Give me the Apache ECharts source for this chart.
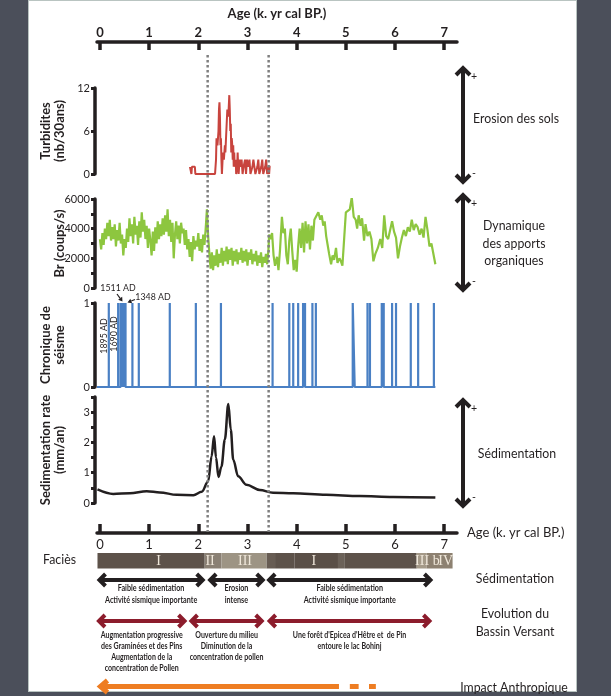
<!DOCTYPE html>
<html>
<head>
<meta charset="utf-8">
<script src="https://cdn.jsdelivr.net/npm/echarts@6/dist/echarts.min.js"></script>
<style>
  html, body { margin: 0; padding: 0; background: #4b4f5a; }
  #panel { position: absolute; left: 28px; top: 0; width: 547px; height: 690px; background: #fff; border: 1px solid #b9c4c1; }
  #chart { position: absolute; left: 0; top: 0; width: 611px; height: 696px; }
</style>
</head>
<body>
<div id="panel"></div>
<div id="chart"></div>
<script>
// ---- data (ages in k. yr cal BP) ----
const ageTicks = [0, 1, 2, 3, 4, 5, 6, 7]

// Turbidites (nb/30ans)
const turbData = [
  [1.83, 1], [1.85, 1], [1.86, 0], [1.87, 1], [1.93, 1], [1.94, 0], [2.34, 0], [2.36, 2], [2.37, 5],
  [2.39, 4], [2.41, 6], [2.42, 9], [2.43, 10], [2.44, 8], [2.45, 4], [2.46, 5], [2.47, 2], [2.48, 0],
  [2.5, 3], [2.52, 2], [2.54, 4], [2.55, 3], [2.57, 6], [2.59, 9], [2.61, 8], [2.63, 11], [2.64, 9],
  [2.65, 6], [2.66, 7], [2.67, 3], [2.68, 5], [2.69, 4], [2.7, 2], [2.71, 4], [2.72, 1], [2.73, 3],
  [2.74, 1], [2.76, 2], [2.77, 0], [2.79, 1], [2.8, 3], [2.81, 1], [2.82, 0], [2.84, 2], [2.86, 1],
  [2.88, 2], [2.9, 0], [2.92, 1], [2.95, 2], [2.97, 0], [2.99, 2], [3.02, 1], [3.04, 2], [3.06, 0],
  [3.1, 1], [3.12, 2], [3.14, 1], [3.16, 0], [3.2, 1], [3.22, 2], [3.24, 0], [3.28, 1], [3.3, 2],
  [3.32, 0], [3.36, 1], [3.38, 2], [3.4, 0], [3.42, 1], [3.44, 0], [3.45, 1], [3.47, 1]
]

// Br (coups/s): two regularly sampled stretches, then irregular points
const BR_STEP = 0.025
const brStart1 = 0
const brDense1 = [
  3300, 2600, 3700, 2900, 4000, 3300, 4400, 3500, 4600, 3200, 4100, 3300, 4300, 2800, 3900, 3200,
  4400, 3000, 3600, 2200, 3300, 2700, 4000, 3100, 4700, 3500, 4300, 3000, 4800, 3600, 4200, 2900,
  4500, 3400, 5100, 3800, 4600, 3300, 4200, 2700, 4000, 3200, 2200, 3800, 2500, 4100, 3000, 4500,
  3300, 4300, 3500, 4700, 3600, 4900, 3800, 5300, 3500, 4600, 3100, 4400, 2000, 3600, 4500, 3300,
  4200, 3000, 4400, 3700, 4000, 2900, 3900, 2600, 3300, 2100, 3100, 1800, 3500, 2600, 3200, 2800,
  3700, 2500, 3300, 2400, 3600, 2900, 4000, 5300, 3500
]
const brStart2 = 2.225
const brDense2 = [
  2300, 1300, 2400, 1200, 2200, 1500, 2600, 1400, 2300, 1700, 2700, 1500, 2500, 1800, 2800, 1600,
  2600, 1900, 2700, 1500, 2500, 1800, 2600, 1600, 2400, 1900, 2700, 1700, 2500, 1800, 2600, 1500,
  2400, 1900, 2600, 1600, 2300, 1800, 2500, 1500, 2200, 1700, 2400, 1400, 2100, 1700, 2300, 1600, 2500
]
const brTail = [
  [3.44, 3600], [3.47, 3300], [3.5, 3700], [3.53, 2200], [3.56, 1500], [3.6, 2100], [3.63, 1200],
  [3.66, 2500], [3.7, 4800], [3.73, 3700], [3.76, 4000], [3.79, 2200], [3.82, 1600], [3.85, 3200],
  [3.88, 4000], [3.91, 2500], [3.94, 1200], [3.97, 1900], [4.0, 1100], [4.03, 2800], [4.06, 4000],
  [4.09, 2700], [4.12, 4400], [4.15, 2400], [4.18, 4500], [4.21, 3000], [4.24, 4300], [4.27, 2600],
  [4.3, 4200], [4.33, 3200], [4.36, 4600], [4.4, 4700], [4.44, 5100], [4.48, 4600], [4.51, 4900],
  [4.54, 4200], [4.57, 4500], [4.6, 3500], [4.63, 2900], [4.66, 2300], [4.7, 1600], [4.73, 2200],
  [4.76, 1900], [4.8, 2700], [4.83, 1700], [4.87, 2000], [4.9, 1800], [4.93, 1500], [4.97, 1400],
  [5.0, 5100], [5.04, 5200], [5.08, 5300], [5.12, 6100], [5.16, 4800], [5.2, 4600], [5.23, 4000],
  [5.26, 4900], [5.3, 4200], [5.33, 4700], [5.37, 3200], [5.4, 4300], [5.44, 3500], [5.48, 3800],
  [5.52, 3300], [5.56, 1800], [5.6, 2300], [5.65, 2700], [5.7, 3300], [5.74, 2700], [5.78, 4900],
  [5.82, 3500], [5.86, 3300], [5.9, 3400], [5.94, 4500], [5.98, 3800], [6.02, 3400], [6.06, 2000],
  [6.1, 2800], [6.14, 3400], [6.18, 3900], [6.22, 3500], [6.26, 4100], [6.3, 3800], [6.34, 4600],
  [6.38, 3900], [6.42, 4300], [6.46, 4100], [6.5, 3600], [6.54, 4000], [6.58, 3400], [6.62, 4800],
  [6.66, 3900], [6.7, 2800], [6.74, 3000], [6.78, 2900], [6.82, 1600]
]

// Chronique de séisme: event ages (second value = where the line returns to 0)
const seismeEvents = [
  [0.18], [0.37], [0.42], [0.45], [0.47], [0.49], [0.52], [0.66], [0.79], [1.42], [1.95], [2.46],
  [3.51], [3.85], [3.93], [4.03], [4.13], [4.17], [4.32], [4.39], [5.14, 5.18], [5.44], [5.49],
  [5.73], [5.77], [5.94], [6.02], [6.32], [6.47], [6.79]
]
const seismeStart = -0.06
const seismeEnd = 6.82

// Sedimentation rate (mm/an)
const sedData = [
  [-0.05, 0.45], [0.27, 0.3], [0.61, 0.32], [0.95, 0.39], [1.22, 0.35], [1.56, 0.27], [1.9, 0.26],
  [2.07, 0.37], [2.2, 0.71], [2.27, 1.54], [2.32, 2.2], [2.36, 1.5], [2.41, 0.86], [2.47, 1.2],
  [2.54, 2.1], [2.61, 3.27], [2.66, 2.43], [2.71, 1.43], [2.81, 0.88], [2.98, 0.6], [3.25, 0.43],
  [3.52, 0.34], [3.93, 0.32], [4.6, 0.27], [5.28, 0.23], [5.96, 0.2], [6.82, 0.18]
]

const zoneBounds = [2.19, 3.43]

// Faciès bar
const faciesSegs = [
  [-0.05, 2.13], [2.13, 2.47], [2.47, 3.39], [3.39, 3.56], [3.56, 3.96], [3.96, 4.84],
  [4.84, 4.98], [4.98, 6.44], [6.44, 6.64], [6.64, 7.17]
]
const faciesColors = [
  '#5d524a', '#8a8074', '#9d9484', '#675c53', '#5d524a', '#5a4f47',
  '#6b6158', '#5d524a', '#a59a89', '#8d8171'
]
const faciesLabels = [[1.19, 'I'], [2.24, 'II'], [2.95, 'III'], [4.35, 'I'], [6.55, 'III'], [6.84, 'b'], [7.03, 'IV']]

// Interpretation bands
const sedArrows = [[-0.03, 2.11], [2.22, 3.33], [3.42, 6.74]]
const sedTexts = [
  'Faible sédimentation\nActivité sismique importante',
  'Erosion\nintense',
  'Faible sédimentation\nActivité sismique importante'
]
const evoArrows = [[-0.04, 1.74], [1.84, 3.31], [3.43, 6.72]]
const evoTexts = [
  'Augmentation progressive\ndes Graminées et des Pins\nAugmentation de la\nconcentration de Pollen',
  'Ouverture du milieu\nDiminution de la\nconcentration de pollen',
  "Une forêt d'Epicea d'Hêtre et  de Pin\nentoure le lac Bohinj"
]
const impactSegs = [[-0.03, 4.86], [5.04, 5.26], [5.43, 5.61]]

// ---- layout ----
const INK = '#231f20'
const FONT = 'Lato, "Open Sans", sans-serif'
const X_MIN = -0.06
const X_MAX = 7.26
const ROW = { facTop: 13, facBot: 28.5, facLabel: 21, sedArrow: 40, sedText: 42.5, evoArrow: 81, evoText: 89, impact: 146.5 }

const brData = brDense1.map((v, i) => [+(brStart1 + i * BR_STEP).toFixed(3), v])
  .concat(brDense2.map((v, i) => [+(brStart2 + i * BR_STEP).toFixed(3), v]))
  .concat(brTail)

const seismeData = [[seismeStart, 0]]
seismeEvents.forEach(e => {
  const a = e[0]
  const b = e.length > 1 ? e[1] : e[0]
  seismeData.push([a, 0], [a, 1], [b, 0])
})
seismeData.push([seismeEnd, 0])

const chart = echarts.init(document.getElementById('chart'))

const axisLineStyle = { color: INK, width: 3.5 }
const nameStyle = { fontFamily: FONT, fontSize: 13, fontWeight: 'bold', color: INK, lineHeight: 14 }

const yBase = (gi, extra) => Object.assign({
  gridIndex: gi,
  type: 'value',
  offset: 2,
  axisLine: { show: true, onZero: false, lineStyle: axisLineStyle },
  axisTick: { show: true, length: 4, lineStyle: { color: INK, width: 3 } },
  axisLabel: { margin: 5, fontFamily: FONT, fontSize: 11, color: INK },
  splitLine: { show: false },
  nameLocation: 'middle',
  nameRotate: 90,
  nameGap: 28,
  nameMoveOverlap: false,
  nameTextStyle: nameStyle
}, extra)

const hiddenX = gi => ({ gridIndex: gi, type: 'value', min: X_MIN, max: X_MAX, show: false })

const chevron = (x, y, dx, dy) => [[x + dx, y - dy], [x, y], [x + dx, y + dy]]

const makeArrowRender = (color, lw, h, rowArrow, rowText, texts, font, lh, sx) => (params, api) => {
  const a = api.coord([api.value(0), rowArrow])
  const b = api.coord([api.value(1), rowArrow])
  const t = api.coord([(api.value(0) + api.value(1)) / 2, rowText])
  const st = { stroke: color, lineWidth: lw, fill: null, lineJoin: 'miter', lineCap: 'butt' }
  return {
    type: 'group',
    children: [
      { type: 'line', shape: { x1: a[0] + 1, y1: a[1], x2: b[0] - 1, y2: b[1] }, style: st },
      { type: 'polyline', shape: { points: chevron(a[0] + 1, a[1], h, h) }, style: st },
      { type: 'polyline', shape: { points: chevron(b[0] - 1, b[1], -h, h) }, style: st },
      {
        type: 'text',
        x: t[0], y: t[1], scaleX: sx,
        style: {
          text: texts[params.dataIndex], x: 0, y: 0, align: 'center', verticalAlign: 'top',
          textAlign: 'center', textVerticalAlign: 'top', font, lineHeight: lh, fill: INK
        }
      }
    ]
  }
}

const option = {
  animation: false,
  backgroundColor: 'transparent',
  grid: [
    { left: 97, width: 360, top: 88, height: 86 },
    { left: 97, width: 360, top: 199, height: 89 },
    { left: 97, width: 360, top: 303, height: 84 },
    { left: 97, width: 360, top: 397, height: 106 },
    { left: 97, width: 360, top: 540, height: 152 }
  ],
  xAxis: [
    {
      gridIndex: 0, type: 'value', position: 'top', offset: 46, min: X_MIN, max: X_MAX,
      axisLine: { show: true, onZero: false, lineStyle: axisLineStyle },
      axisTick: { show: true, inside: true, length: 8, lineStyle: { color: INK, width: 3.5 }, customValues: ageTicks },
      axisLabel: { customValues: ageTicks, margin: 3, fontFamily: FONT, fontSize: 13, fontWeight: 'bold', color: INK },
      splitLine: { show: false },
      name: 'Age (k. yr cal BP.)', nameLocation: 'middle', nameGap: 22, nameMoveOverlap: false,
      nameTextStyle: { fontFamily: FONT, fontSize: 13, fontWeight: 'bold', color: INK }
    },
    hiddenX(1),
    hiddenX(2),
    {
      gridIndex: 3, type: 'value', position: 'bottom', offset: 30, min: X_MIN, max: X_MAX,
      axisLine: { show: true, onZero: false, lineStyle: axisLineStyle },
      axisTick: { show: true, inside: true, length: 9, lineStyle: { color: INK, width: 3.5 }, customValues: ageTicks },
      axisLabel: { customValues: ageTicks, margin: 5, fontFamily: FONT, fontSize: 13, color: INK },
      splitLine: { show: false },
      name: 'Age (k. yr cal BP.)', nameLocation: 'end', nameGap: 10, nameMoveOverlap: false,
      nameTextStyle: { fontFamily: FONT, fontSize: 13, color: INK }
    },
    hiddenX(4)
  ],
  yAxis: [
    yBase(0, { min: 0, max: 12, interval: 6, name: 'Turbidites\n(nb/30ans)' }),
    yBase(1, {
      min: 0, max: 6000, interval: 1000, name: 'Br (coups/s)',
      axisLabel: { margin: 5, fontFamily: FONT, fontSize: 11, color: INK, formatter: v => (v % 2000 === 0 ? v : '') }
    }),
    yBase(2, { min: 0, max: 1, interval: 1, name: 'Chronique de\nséisme' }),
    yBase(3, {
      min: 0, max: 3.5, interval: 0.5, name: 'Sedimentation rate\n(mm/an)',
      axisLabel: { margin: 5, fontFamily: FONT, fontSize: 11, color: INK, formatter: v => (Number.isInteger(v) ? v : '') }
    }),
    { gridIndex: 4, type: 'value', min: 0, max: 152, inverse: true, show: false }
  ],
  series: [
    {
      type: 'line', xAxisIndex: 0, yAxisIndex: 0, data: turbData, showSymbol: false,
      lineStyle: { color: '#c8443e', width: 2 }
    },
    {
      type: 'line', xAxisIndex: 1, yAxisIndex: 1, data: brData, showSymbol: false,
      lineStyle: { color: '#8dc63f', width: 2.2 }
    },
    {
      type: 'line', xAxisIndex: 2, yAxisIndex: 2, data: seismeData, showSymbol: false,
      lineStyle: { color: '#4a80c4', width: 2.2 }
    },
    {
      type: 'line', xAxisIndex: 3, yAxisIndex: 3, data: sedData, showSymbol: false,
      smooth: 0.35, smoothMonotone: 'x',
      lineStyle: { color: INK, width: 2.5 }
    },
    {
      type: 'custom', xAxisIndex: 4, yAxisIndex: 4,
      data: faciesSegs.map(s => [s[0], s[1], ROW.facTop]),
      encode: { x: [0, 1], y: 2 },
      renderItem: (params, api) => {
        const p0 = api.coord([api.value(0), ROW.facTop])
        const p1 = api.coord([api.value(1), ROW.facBot])
        return {
          type: 'rect',
          shape: { x: p0[0], y: p0[1], width: p1[0] - p0[0], height: p1[1] - p0[1] },
          style: { fill: faciesColors[params.dataIndex] }
        }
      }
    },
    {
      type: 'custom', xAxisIndex: 4, yAxisIndex: 4,
      data: faciesLabels.map(l => [l[0], ROW.facLabel]),
      encode: { x: 0, y: 1 },
      renderItem: (params, api) => {
        const p = api.coord([api.value(0), ROW.facLabel])
        return {
          type: 'text',
          style: {
            text: faciesLabels[params.dataIndex][1], x: p[0], y: p[1],
            align: 'center', verticalAlign: 'middle', textAlign: 'center', textVerticalAlign: 'middle',
            font: '14px "Liberation Serif", serif', fill: '#efe7da'
          }
        }
      }
    },
    {
      type: 'custom', xAxisIndex: 4, yAxisIndex: 4,
      data: sedArrows.map(a => [a[0], a[1], ROW.sedArrow]),
      encode: { x: [0, 1], y: 2 },
      renderItem: makeArrowRender(INK, 4, 6, ROW.sedArrow, ROW.sedText, sedTexts, 'bold 9px ' + FONT, 12, 0.8)
    },
    {
      type: 'custom', xAxisIndex: 4, yAxisIndex: 4,
      data: evoArrows.map(a => [a[0], a[1], ROW.evoArrow]),
      encode: { x: [0, 1], y: 2 },
      renderItem: makeArrowRender('#8c1c2c', 4, 6, ROW.evoArrow, ROW.evoText, evoTexts, 'bold 9px ' + FONT, 11.3, 0.78)
    },
    {
      type: 'custom', xAxisIndex: 4, yAxisIndex: 4,
      data: impactSegs.map(a => [a[0], a[1], ROW.impact]),
      encode: { x: [0, 1], y: 2 },
      renderItem: (params, api) => {
        const a = api.coord([api.value(0), ROW.impact])
        const b = api.coord([api.value(1), ROW.impact])
        const st = { stroke: '#ee7d22', lineWidth: 5, fill: null, lineJoin: 'miter', lineCap: 'butt' }
        const children = [{ type: 'line', shape: { x1: a[0] + 2, y1: a[1], x2: b[0], y2: b[1] }, style: st }]
        if (params.dataIndex === 0) {
          children.push({ type: 'polyline', shape: { points: chevron(a[0] + 2, a[1], 7, 6) }, style: st })
        }
        return { type: 'group', children }
      }
    }
  ]
}

chart.setOption(option)

// ---- pixel annotations (arrows, side labels) ----
const txt = (x, y, text, opts) => ({
  type: 'text', x, y,
  rotation: (opts && opts.rotation) || 0,
  scaleX: (opts && opts.sx) || 0.88,
  style: Object.assign({
    text, fill: INK, font: '14px ' + FONT,
    align: 'center', verticalAlign: 'middle', textAlign: 'center', textVerticalAlign: 'middle'
  }, (opts && opts.style) || {})
})

const vArrow = (x, y1, y2) => {
  const st = { stroke: INK, lineWidth: 4, fill: null, lineJoin: 'miter' }
  return [
    { type: 'line', shape: { x1: x, y1: y1 + 1, x2: x, y2: y2 - 1 }, style: st },
    { type: 'polyline', shape: { points: [[x - 7, y1 + 8], [x, y1 + 1], [x + 7, y1 + 8]] }, style: st },
    { type: 'polyline', shape: { points: [[x - 7, y2 - 8], [x, y2 - 1], [x + 7, y2 - 8]] }, style: st },
    txt(x + 11, y1 + 9, '+', { style: { font: '12px ' + FONT } }),
    txt(x + 11, y2 - 10, '-', { style: { font: '12px ' + FONT } })
  ]
}

const smallArrow = (x1, y1, x2, y2) => {
  const dx = x2 - x1
  const dy = y2 - y1
  const len = Math.hypot(dx, dy)
  const ux = dx / len
  const uy = dy / len
  const bx = x2 - ux * 4
  const by = y2 - uy * 4
  return [
    { type: 'line', shape: { x1, y1, x2: bx, y2: by }, style: { stroke: INK, lineWidth: 1.2 } },
    {
      type: 'polygon',
      shape: { points: [[x2, y2], [bx - uy * 2.5, by + ux * 2.5], [bx + uy * 2.5, by - ux * 2.5]] },
      style: { fill: INK }
    }
  ]
}

const graphics = []
  .concat(vArrow(463, 67, 183))
  .concat(vArrow(463, 194, 291))
  .concat(vArrow(463, 399, 507))
  .concat([
    txt(516, 118, 'Erosion des sols'),
    txt(514, 243, 'Dynamique\ndes apports\norganiques', { style: { lineHeight: 17.5 } }),
    txt(517, 453, 'Sédimentation'),
    txt(515, 578, 'Sédimentation'),
    txt(515, 622, 'Evolution du\nBassin Versant', { style: { lineHeight: 18 } }),
    txt(514, 687, 'Impact Anthropique'),
    txt(76, 559, 'Faciès', { style: { align: 'right', textAlign: 'right', font: '14px ' + FONT } }),
    txt(118, 288, '1511 AD', { style: { font: '10px ' + FONT } }),
    txt(153, 297, '1348 AD', { style: { font: '10px ' + FONT } }),
    txt(104, 336, '1895 AD', { rotation: Math.PI / 2, style: { font: '10px ' + FONT } }),
    txt(114, 334, '1690 AD', { rotation: Math.PI / 2, style: { font: '10px ' + FONT } })
  ])
  .concat(smallArrow(117, 294, 122.5, 301.5))
  .concat(smallArrow(135, 299.5, 127.5, 302.5))

zoneBounds.forEach(age => {
  const x = chart.convertToPixel({ xAxisIndex: 0 }, age)
  graphics.push({
    type: 'line', z: 10,
    shape: { x1: x, y1: 55, x2: x, y2: 532 },
    style: { stroke: '#7f7f7f', lineWidth: 2.5, lineDash: [2.5, 2.5] }
  })
})

chart.setOption({ graphic: graphics })

window.addEventListener('resize', () => chart.resize())
</script>
</body>
</html>
